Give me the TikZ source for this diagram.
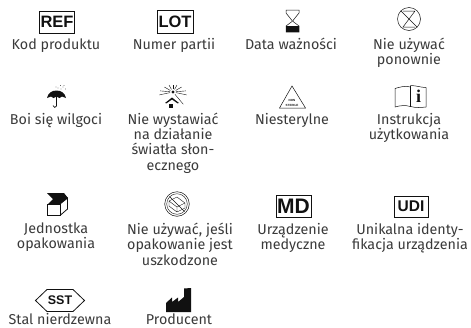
\documentclass[tikz,border=0pt]{standalone}
\usepackage{fontspec}
\setmainfont{Fira Sans}
\newfontfamily\symfont{Liberation Sans}
\definecolor{txt}{HTML}{3A3A3A}
\definecolor{ink}{HTML}{111111}
\tikzset{
  lbl/.style={anchor=base,inner sep=0pt,align=center,text=txt,font=\fontsize{14.3}{15.3}\selectfont},
  tagbox/.style={draw=ink,line width=0.9pt,inner sep=0pt,font=\symfont\bfseries\fontsize{16.5}{16.5}\selectfont,text=ink},
  thin line/.style={draw=ink,line width=0.5pt},
  solid part/.style={fill=ink,draw=none}
}
\begin{document}
\begin{tikzpicture}[x=1pt,y=-1pt]
\useasboundingbox (0,0) rectangle (471,327);
% tag boxes
\node[tagbox,minimum width=35pt,minimum height=22pt] (ref) at (57,22) {REF};
\node[tagbox,minimum width=36pt,minimum height=23pt] (lot) at (175,21.5) {LOT};
\node[tagbox,minimum width=35pt,minimum height=22pt,font=\symfont\bfseries\fontsize{21}{21}\selectfont] (md) at (293.5,206) {MD};
\node[tagbox,minimum width=34pt,minimum height=21pt,font=\symfont\bfseries\fontsize{15.5}{15.5}\selectfont] (udi) at (411,206.5) {UDI};
% labels
\node[lbl] (l1) at (56,49) {Kod produktu};
\node[lbl] (l2) at (174,49) {Numer partii};
\node[lbl] (l3) at (291,49) {Data ważności};
\node[lbl] (l4) at (409,64.5) {Nie używać\\ponownie};
\node[lbl] (l5) at (56,124) {Boi się wilgoci};
\node[lbl] (l6) at (173,170) {Nie wystawiać\\na działanie\\światła słon-\\ecznego};
\node[lbl] (l7) at (292,124) {Niesterylne};
\node[lbl] (l8) at (409,139.5) {Instrukcja\\użytkowania};
\node[lbl] (l9) at (56,248.5) {Jednostka\\opakowania};
\node[lbl] (l10) at (180,265) {Nie używać, jeśli\\opakowanie jest\\uszkodzone};
\node[lbl] (l11) at (293,249.5) {Urządzenie\\medyczne};
\node[lbl] (l12) at (410,249.5) {Unikalna identy-\\fikacja urządzenia};
\node[lbl] (l13) at (60,324) {Stal nierdzewna};
\node[lbl] (l14) at (179,324) {Producent};
% hourglass
\draw[thin line] (286,10) -- (299,10) -- (299,13) -- (293,20.5) -- (293,21.5) -- (299,26) -- (299,32) -- (286,32) -- (286,26) -- (292,21.5) -- (292,20.5) -- (286,13) -- cycle;
\fill[solid part] (286,26) rectangle (299,32);
% do not reuse
\draw[thin line] (409,19) circle[radius=11.5pt];
\draw[thin line] (401,11) -- (417,27);
\draw[thin line] (403,11) -- (415,11) (415,11) -- (403,27) -- (415,27);
% umbrella
\fill[solid part] (47,98) .. controls (48,93) and (52,90.5) .. (56.5,90.5) .. controls (61,90.5) and (65,93) .. (66,98) -- (62,96.5) -- (59.5,98) -- (56.5,96.5) -- (53.5,98) -- (51,96.5) -- cycle;
\draw[thin line,line width=0.7pt] (56.5,96) -- (56.5,106) .. controls (56.5,108) and (53,108) .. (53,105.5);
\foreach \p in {(58,88),(60.5,85.5),(63,87),(65.5,89),(61,89),(64,85.5),(56,87)}
  \fill[ink] \p circle[radius=0.45pt];
% sun
\fill[ink] (173,92) circle[radius=1.7pt];
\foreach \a/\r in {90/7,60/8,120/8,30/10,150/10,5/13,175/13,-12/14,192/14,-50/16}
  \draw[thin line,line width=0.4pt] ([shift={(\a:3pt)}]173,92) -- ([shift={(\a:\r pt)}]173,92);
\fill[solid part] (165,103) -- (172,97.5) -- (179,103) -- (177.5,103.3) -- (172,99.5) -- (166.5,103.3) -- cycle;
\fill[solid part] (168.5,104) rectangle (172.5,108);
% non-sterile triangle
\draw[thin line] (292,86) -- (305.5,108) -- (279.5,108) -- cycle;
\node[inner sep=0pt,text=ink,font=\symfont\bfseries\fontsize{3}{3}\selectfont] (nst1) at (292,100.5) {NON};
\node[inner sep=0pt,text=ink,font=\symfont\bfseries\fontsize{3}{3}\selectfont] (nst2) at (292,105) {STERILE};
% book
\draw[thin line] (410.5,87) .. controls (405,85.5) and (400,87) .. (395,88.5) -- (395,107) .. controls (400,105.5) and (405,105) .. (410.5,106.5) .. controls (416,108) and (421,107.5) .. (426,107) -- (426,87.5) .. controls (421,87.5) and (416,85.5) .. (410.5,85.5) -- cycle;
\draw[thin line] (410.5,86) -- (410.5,106.5);
\node[inner sep=0pt,text=ink,font=\fontspec{Liberation Serif}\bfseries\fontsize{18}{18}\selectfont] (info) at (418.5,96.5) {i};
% open box
\draw[thin line,line width=0.8pt] (47.5,204) -- (60,204) -- (60,215.5) -- (47.5,215.5) -- cycle;
\draw[thin line,line width=0.8pt] (60,204) -- (67.5,198) -- (67.5,209) -- (60,215.5);
\fill[solid part] (47,193) -- (64,193) -- (68,198) -- (60,204) -- (48,204) -- (53,199) -- cycle;
% do not use if damaged
\draw[thin line] (177,204) circle[radius=12.3pt];
\draw[thin line,line width=0.4pt] (177,204) circle[radius=10.3pt];
\draw[thin line,line width=0.4pt] (169,201) -- (177,197) -- (185,203) -- (185,208) -- (177,212) -- (169,206) -- cycle (169,201) -- (177,207) -- (185,203) (177,207) -- (177,212);
\draw[thin line] (169.5,196.5) -- (184.5,211.5);
% SST
\node[inner sep=0pt,text=ink,font=\symfont\bfseries\fontsize{12.5}{12.5}\selectfont] (sst) at (60,300.5) {SST};
\draw[thin line,line width=0.8pt] (35.5,300.5) -- (47,289.5) -- (73,289.5) -- (84.5,300.5) -- (73,311.5) -- (47,311.5) -- cycle;
% factory
\fill[solid part] (166,312) -- (166,303) -- (172,297.5) -- (172,302) -- (178,297.5) -- (178,302) -- (184,297) -- (184,288.5) -- (191,288) -- (191,312) -- cycle;
\end{tikzpicture}
\end{document}
